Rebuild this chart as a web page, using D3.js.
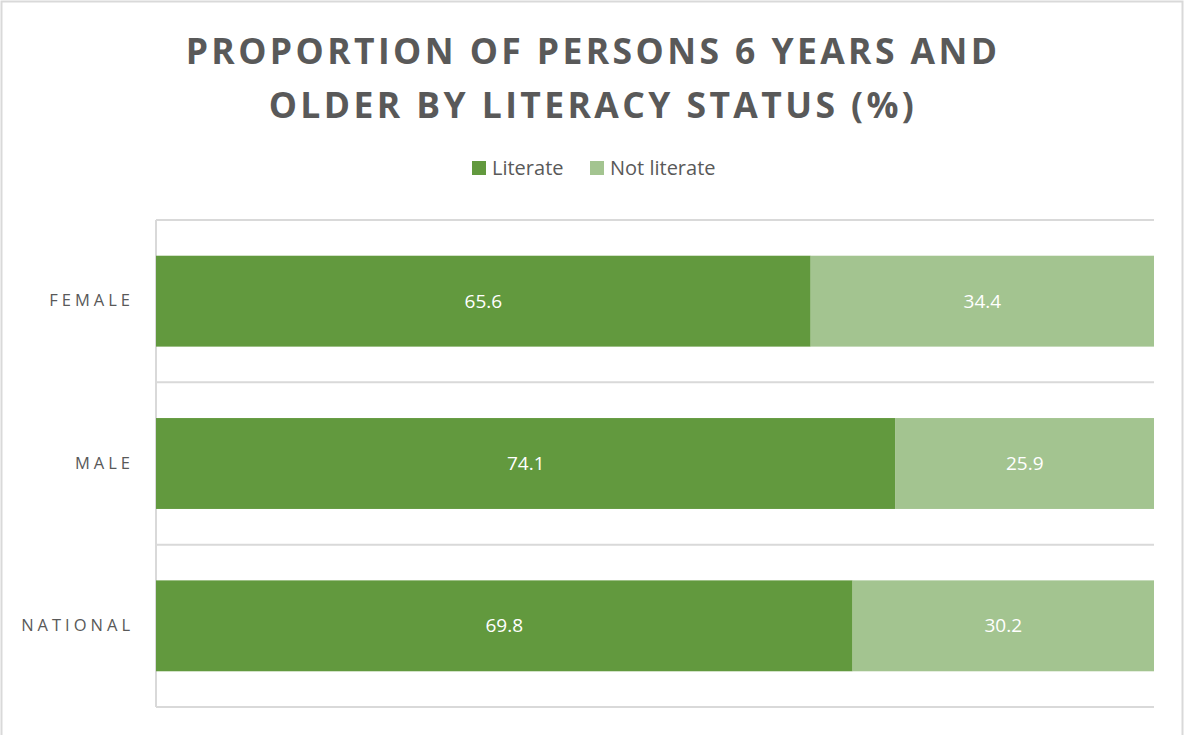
<!DOCTYPE html>
<html>
<head>
<meta charset="utf-8">
<script src="https://cdn.jsdelivr.net/npm/d3@7"></script>
<style>
  body { margin: 0; background: #fff; }
  svg { display: block; font-family: "Open Sans", "Noto Sans", sans-serif; }
</style>
</head>
<body>
<div id="chart"></div>
<script>
// chart data
const categories = ["FEMALE", "MALE", "NATIONAL"];
const literate = [65.6, 74.1, 69.8];
const notLiterate = [34.4, 25.9, 30.2];
const seriesNames = ["Literate", "Not literate"];
const seriesColors = ["#62993e", "#a3c490"];
const titleLines = ["PROPORTION OF PERSONS 6 YEARS AND", "OLDER BY LITERACY STATUS (%)"];

const width = 1184, height = 735;
const margin = {top: 220, right: 30, bottom: 28, left: 156};

const svg = d3.select("#chart")
  .append("svg")
  .attr("width", width)
  .attr("height", height);

// outer frame
svg.append("rect")
  .attr("x", 1.5).attr("y", 1.5)
  .attr("width", width - 3).attr("height", height + 10)
  .attr("fill", "#fff")
  .attr("stroke", "#d9d9d9")
  .attr("stroke-width", 2);

// title
svg.append("text")
  .attr("text-anchor", "middle")
  .attr("fill", "#595959")
  .attr("font-size", "35.5px")
  .attr("font-weight", "bold")
  .attr("letter-spacing", "3.4px")
  .selectAll("tspan")
  .data(titleLines)
  .enter()
  .append("tspan")
    .attr("x", 593)
    .attr("y", (d, i) => 64 + i * 54)
    .text(d => d);

const data = categories.map((c, i) => ({cat: c, vals: [literate[i], notLiterate[i]]}));

let xScale = d3.scaleLinear()
  .domain([0, 100])
  .range([margin.left, width - margin.right]);

let yScale = d3.scaleBand()
  .domain(categories)
  .range([margin.top, height - margin.bottom])
  .paddingInner(0.44)
  .paddingOuter(0.22);

// gridlines at category boundaries
const bounds = d3.range(categories.length + 1).map(i => margin.top + i * (height - margin.bottom - margin.top) / categories.length);
svg.append("g")
  .selectAll("line")
  .data(bounds)
  .enter()
  .append("line")
    .attr("x1", margin.left)
    .attr("x2", width - margin.right)
    .attr("y1", d => d)
    .attr("y2", d => d)
    .attr("stroke", "#d9d9d9")
    .attr("stroke-width", 2);

// vertical axis
const yAxis = svg.append("g")
  .attr("transform", `translate(${margin.left},0)`)
  .call(d3.axisLeft(yScale).tickSize(0).tickPadding(22));
yAxis.select(".domain")
  .attr("stroke", "#d9d9d9")
  .attr("stroke-width", 2)
  .attr("d", `M0,${margin.top}V${height - margin.bottom}`);
yAxis.selectAll("text")
  .attr("fill", "#595959")
  .attr("font-size", "16.5px")
  .attr("letter-spacing", "4px")
  .attr("font-family", "'Open Sans', sans-serif");

// stacked bars
const stack = data.map(d => {
  let x0 = 0;
  return d.vals.map((v, j) => {
    const seg = {cat: d.cat, x0: x0, x1: x0 + v, v: v, j: j};
    x0 += v;
    return seg;
  });
}).flat();

svg.append("g")
  .selectAll("rect")
  .data(stack)
  .enter()
  .append("rect")
    .attr("x", d => xScale(d.x0))
    .attr("y", d => yScale(d.cat))
    .attr("width", d => xScale(d.x1) - xScale(d.x0))
    .attr("height", yScale.bandwidth())
    .attr("fill", d => seriesColors[d.j]);

svg.append("g")
  .selectAll("text")
  .data(stack)
  .enter()
  .append("text")
    .attr("x", d => (xScale(d.x0) + xScale(d.x1)) / 2)
    .attr("y", d => yScale(d.cat) + yScale.bandwidth() / 2)
    .attr("dy", "0.35em")
    .attr("text-anchor", "middle")
    .attr("fill", "#fff")
    .attr("font-size", "19px")
    .text(d => d.v.toFixed(1));

// legend
const legendX = [472, 590];
const legend = svg.append("g")
  .selectAll("g")
  .data(seriesNames)
  .enter()
  .append("g")
    .attr("transform", (d, i) => `translate(${legendX[i]},161)`);
legend.append("rect")
  .attr("width", 14)
  .attr("height", 14)
  .attr("fill", (d, i) => seriesColors[i]);
legend.append("text")
  .attr("x", 20)
  .attr("y", 7)
  .attr("dy", "0.35em")
  .attr("fill", "#595959")
  .attr("font-size", "20px")
  .text(d => d);
</script>
</body>
</html>
